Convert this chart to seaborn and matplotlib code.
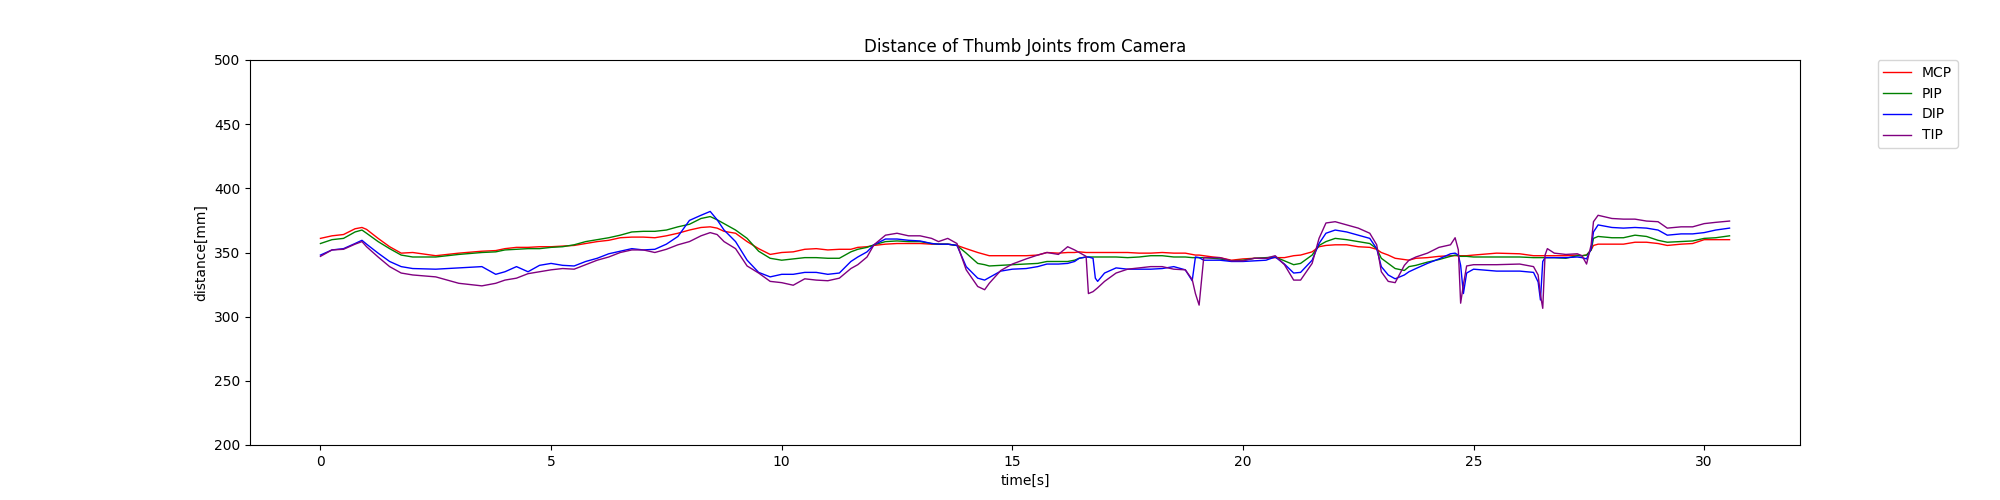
import matplotlib
matplotlib.use("Agg")
import matplotlib.pyplot as plt
import seaborn as sns
import pandas as pd

# time stamps [s]
time_s = [
    0, 0.25, 0.5, 0.75, 0.9, 1.0, 1.25, 1.5, 1.75, 2.0,
    2.5, 3.0, 3.5, 3.8, 4.0, 4.25, 4.5, 4.75, 5.0, 5.25,
    5.5, 5.75, 6.0, 6.25, 6.5, 6.75, 7.0, 7.25, 7.5, 7.75,
    8.0, 8.25, 8.45, 8.6, 8.75, 9.0, 9.25, 9.5, 9.75, 10.0,
    10.25, 10.5, 10.75, 11.0, 11.25, 11.5, 11.65, 11.85, 12.0, 12.25,
    12.5, 12.75, 13.0, 13.25, 13.4, 13.6, 13.8, 14.0, 14.25, 14.4,
    14.5, 14.75, 15.0, 15.3, 15.55, 15.75, 16.0, 16.2, 16.35, 16.45,
    16.6, 16.65, 16.75, 16.8, 16.85, 17.0, 17.25, 17.5, 17.75, 18.0,
    18.25, 18.5, 18.75, 18.9, 18.97, 19.05, 19.15, 19.35, 19.5, 19.75,
    20.0, 20.25, 20.5, 20.7, 20.9, 21.1, 21.25, 21.5, 21.65, 21.8,
    22.0, 22.25, 22.5, 22.75, 22.9, 23.0, 23.15, 23.3, 23.5, 23.6,
    23.75, 24.0, 24.25, 24.5, 24.6, 24.67, 24.72, 24.78, 24.85, 25.0,
    25.5, 26.0, 26.3, 26.4, 26.45, 26.5, 26.55, 26.6, 26.75, 27.0,
    27.25, 27.35, 27.45, 27.55, 27.6, 27.7, 28.0, 28.25, 28.5, 28.75,
    29.0, 29.2, 29.5, 29.75, 30.0, 30.25, 30.55,
]

mcp = [
    361, 363, 364, 368.5, 369.5, 368, 361, 354.5, 349.5, 350,
    347.5, 349.5, 351, 351.5, 353, 354, 354, 354.5, 354.5, 355,
    355.5, 357, 358.5, 359.5, 361.5, 362, 362, 361.5, 363, 365,
    367.5, 369.5, 370, 369, 366.5, 365, 358.5, 353, 348.5, 350,
    350.5, 352.5, 353, 352, 352.5, 352.5, 354, 354.5, 355.5, 356.5,
    357, 357, 357, 356.5, 356.5, 356.5, 355.5, 353, 350, 348.5,
    347.5, 347.5, 347.5, 347.5, 348, 350, 349.5, 350, 350, 350.5,
    350, 350, 350, 350, 350, 350, 350, 350, 349.5, 349.5,
    350, 349.5, 349.5, 348.5, 348, 348, 347.5, 346.5, 346, 344,
    345, 345.5, 345.5, 346, 346, 347.5, 348, 350.5, 354.5, 355.5,
    356, 356, 354.5, 354, 352.5, 350, 348, 345.5, 344.5, 344,
    345.5, 346, 347, 347.5, 347.5, 347.5, 347.5, 347.5, 347.5, 348,
    349.5, 349, 347.5, 347.5, 347.5, 347.5, 347.5, 347.5, 347.5, 347.5,
    348, 347.5, 348, 352, 355.5, 356.5, 356.5, 356.5, 358, 358,
    357, 355.5, 356.5, 357, 360, 360, 360,
]

pip = [
    357, 360, 361, 366, 367.5, 365, 358.5, 353, 348, 346.5,
    346.5, 348.5, 350, 350.5, 352, 352.5, 353, 353, 354, 354.5,
    356, 358.5, 360, 361.5, 363.5, 366, 366.5, 366.5, 367.5, 370,
    372, 376.5, 378, 375.5, 372.5, 367.5, 361, 351, 345.5, 344,
    345, 346, 346, 345.5, 345.5, 350.5, 352.5, 354, 356, 358.5,
    359, 358.5, 358.5, 357, 356.5, 356.5, 355.5, 349.5, 341.5, 340.5,
    339.5, 340, 340.5, 341, 341.5, 343, 343, 343, 344, 345.5,
    346.5, 346.5, 346.5, 346.5, 346.5, 346.5, 346.5, 346, 346.5, 347.5,
    347.5, 346.5, 346.5, 346, 346, 346, 346, 345.5, 345, 343.5,
    344, 345.5, 346, 346.5, 343.5, 340.5, 341.5, 348, 355.5, 358.5,
    361, 360, 358.5, 357, 353, 345.5, 341.5, 337.5, 336, 339,
    340, 342.5, 344.5, 347, 348, 347.5, 347, 347, 347, 346.5,
    346.5, 346.5, 346, 346, 346, 346, 346, 346, 346, 345.5,
    347.5, 347.5, 348, 352, 361, 362.5, 361.5, 361.5, 363.5, 362.5,
    359.5, 358, 358.5, 359, 361, 361.5, 363,
]

dip = [
    348, 352, 353, 357, 359.5, 356.5, 349.5, 343, 339, 337.5,
    337, 338, 339, 333, 335, 339, 335, 340, 341.5, 340,
    339.5, 343, 345.5, 349, 351, 353, 352, 352.5, 356.5, 362.5,
    375, 379, 382, 375.5, 367.5, 358.5, 344, 334.5, 331, 333,
    333, 334.5, 334.5, 333, 334, 343, 346.5, 350.5, 356, 360.5,
    360.5, 359.5, 359, 357, 356.5, 356.5, 355.5, 339, 330, 328.5,
    330.5, 335.5, 337, 337.5, 339, 341, 341, 341.5, 343, 345.5,
    346.5, 346.5, 345.5, 330, 327.5, 334, 338, 337, 337, 337,
    337.5, 339, 336.5, 328, 346.5, 346, 344, 344, 344, 343,
    343, 343.5, 344, 346.5, 341, 334, 334.5, 344, 357, 365,
    367.5, 366, 363.5, 361, 353, 339, 332.5, 329.5, 332.5, 335,
    337.5, 341.5, 345, 349, 349.5, 348, 340, 318, 334, 337,
    335.5, 335.5, 334.5, 327, 313, 343, 346, 346, 346, 346,
    346.5, 346, 345, 353, 366, 371.5, 369.5, 369, 369.5, 369,
    367.5, 363.5, 364.5, 364.5, 365.5, 367.5, 369,
]

tip = [
    347, 352, 352.5, 356.5, 358.5, 354.5, 346.5, 339, 334, 332.5,
    331, 326, 324, 326, 328.5, 330, 333.5, 335, 336.5, 337.5,
    337, 340.5, 344, 346.5, 350, 352, 352, 350, 352.5, 356,
    358.5, 363, 365.5, 364, 358.5, 353, 339.5, 334, 327.5, 326.5,
    324.5, 329.5, 328.5, 328, 330, 337.5, 340.5, 346.5, 356, 363.5,
    365, 363, 363, 361, 358.5, 361, 357, 336.5, 323.5, 321,
    326, 336, 341, 345, 348, 350, 348.5, 354.5, 352, 350,
    347, 318, 319.5, 321, 322.5, 327.5, 334, 337, 338, 339,
    339, 337, 336.5, 329, 318, 309, 346, 346, 346, 343.5,
    343.5, 345.5, 345.5, 347.5, 340.5, 328.5, 328.5, 341.5, 361, 373,
    374, 371.5, 369, 365, 356, 335, 327.5, 326.5, 340, 344,
    346.5, 349.5, 354, 356, 361.5, 352, 310.5, 325, 339.5, 340.5,
    340.5, 341, 339, 332.5, 317, 306.5, 348, 353, 349.5, 348.5,
    349, 347.5, 341, 356, 374, 379, 376.5, 376, 376, 374.5,
    374, 369, 370, 370, 372.5, 373.5, 374.5,
]

joints = ["MCP", "PIP", "DIP", "TIP"]
colors = ["red", "green", "blue", "purple"]

frames = []
for name, vals in zip(joints, [mcp, pip, dip, tip]):
    frames.append(pd.DataFrame({"time": time_s, "distance": vals, "joint": name}))
df = pd.concat(frames, ignore_index=True)

fig, ax = plt.subplots(figsize=(20, 5), dpi=100)
sns.lineplot(data=df, x="time", y="distance", hue="joint", hue_order=joints,
             palette=dict(zip(joints, colors)), estimator=None, sort=False,
             linewidth=1.0, ax=ax)

ax.set_ylim(200, 500)
ax.set_title("Distance of Thumb Joints from Camera")
ax.set_xlabel("time[s]")
ax.set_ylabel("distance[mm]")
handles, labels = ax.get_legend_handles_labels()
ax.legend(handles, labels, bbox_to_anchor=(1.05, 1), loc="upper left",
          borderaxespad=0)

fig.savefig("out.png", dpi=100)
